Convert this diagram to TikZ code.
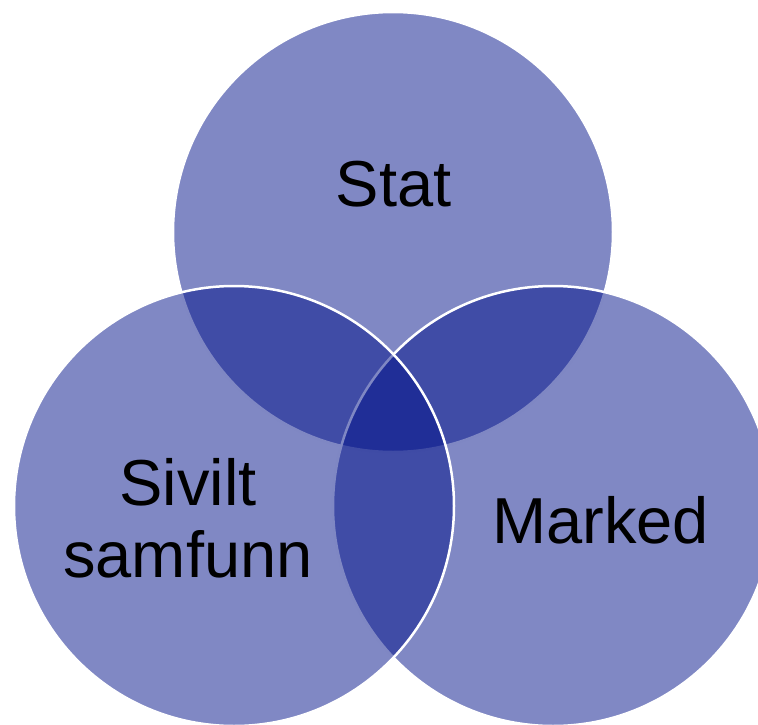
\documentclass[tikz,border=0pt]{standalone}
\usepackage{fontspec}
\setmainfont{Liberation Sans}
\definecolor{vennblue}{RGB}{1,17,137}
\begin{document}
\begin{tikzpicture}[x=1pt,y=-1pt,
  venn/.style={circle, inner sep=0pt, minimum size=440pt, fill=vennblue, fill opacity=0.5, draw=white, line width=2.5pt},
  lbl/.style={anchor=base, text=black, font=\fontsize{65}{72}\selectfont, align=center}]
\useasboundingbox (0,0) rectangle (758,725);
\node[venn] (stat) at (393,232) {};
\node[venn] (marked) at (553,506) {};
\node[venn] (sivilt) at (234,506) {};
\node[lbl] (tstat) at (393.5,206) {Stat};
\node[lbl] (tmarked) at (600.5,543) {Marked};
\node[lbl] (tsivilt) at (188,577) {Sivilt\\samfunn};
\end{tikzpicture}
\end{document}
